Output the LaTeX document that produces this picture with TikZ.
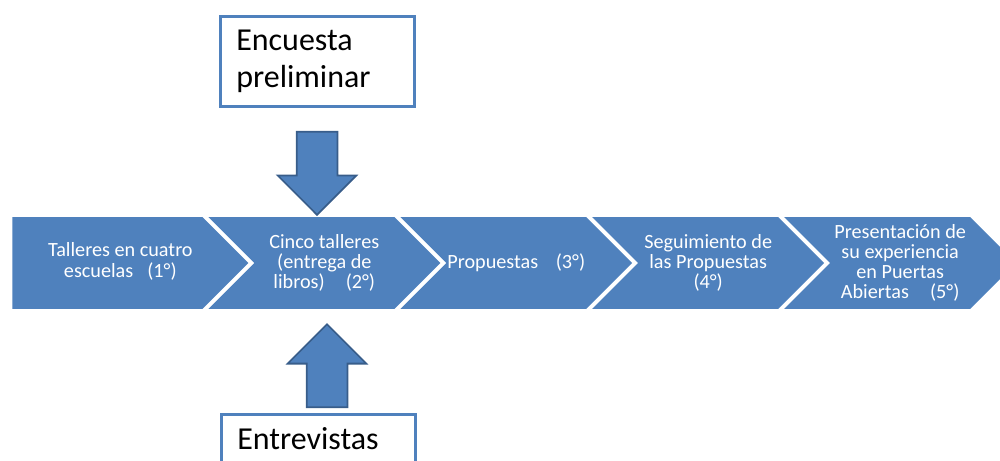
\documentclass[tikz,border=0pt]{standalone}
\usepackage{fontspec}
\setmainfont{Carlito}
\usetikzlibrary{positioning,shapes.symbols,shapes.arrows}
\definecolor{officeblue}{HTML}{4F81BD}
\definecolor{arrowline}{HTML}{385D8A}
\tikzset{
thick,
node distance=0.1cm,
chevron/.style={signal, signal to=east, signal from=west, signal pointer angle=90,
  fill=officeblue, text=white, align=center, inner sep=0pt,
  minimum height=1.84cm, minimum width=4.64cm,
  font=\fontsize{11.5}{11.4}\selectfont},
}

\begin{document}
\begin{tikzpicture}
    [x=0.02cm, y=-0.02cm,
    box/.style={rectangle, draw=officeblue, line width=1.5pt, fill=white,
      text width=3.24cm, inner xsep=0.32cm, inner ysep=7.5pt, align=left,
      font=\fontsize{18.2}{21}\selectfont},
    bigarrow/.style={single arrow, fill=officeblue, draw=arrowline, line width=1pt,
      minimum height=1.66cm, single arrow head extend=0.38cm,
      inner sep=0.39cm, anchor=tip}
    ]
    \useasboundingbox (0,0) rectangle (1000,460);
    \clip (0,0) rectangle (1000,460);

    \node [chevron, signal from=nowhere, minimum width=4.72cm, anchor=west] (c1) at (12,263)
    {\hspace*{0.52cm}\begin{tabular}{@{}c@{}}Talleres en cuatro\\escuelas\hspace{8pt}(1°)\end{tabular}};
    \node [chevron] (c2) [right=of c1]
    {Cinco talleres\\(entrega de\\libros)\hspace{12pt}(2°)};
    \node [chevron] (c3) [right=of c2]
    {Propuestas\hspace{10pt}(3°)};
    \node [chevron] (c4) [right=of c3]
    {Seguimiento de\\las Propuestas\\(4°)};
    \node [chevron] (c5) [right=of c4]
    {Presentación de\\su experiencia\\en Puertas\\Abiertas\hspace{12pt}(5°)};

    \node [box, minimum height=1.8cm, anchor=north west] (encuesta) at (219,15)
    {Encuesta\\preliminar};
    \node [box, text depth=30pt, anchor=north west] (entrevistas) at (220,413)
    {Entrevistas};

    \node [bigarrow, shape border rotate=270] (down) at (317,216) {};
    \node [bigarrow, shape border rotate=90] (up) at (327,323) {};

\end{tikzpicture}
\end{document}
